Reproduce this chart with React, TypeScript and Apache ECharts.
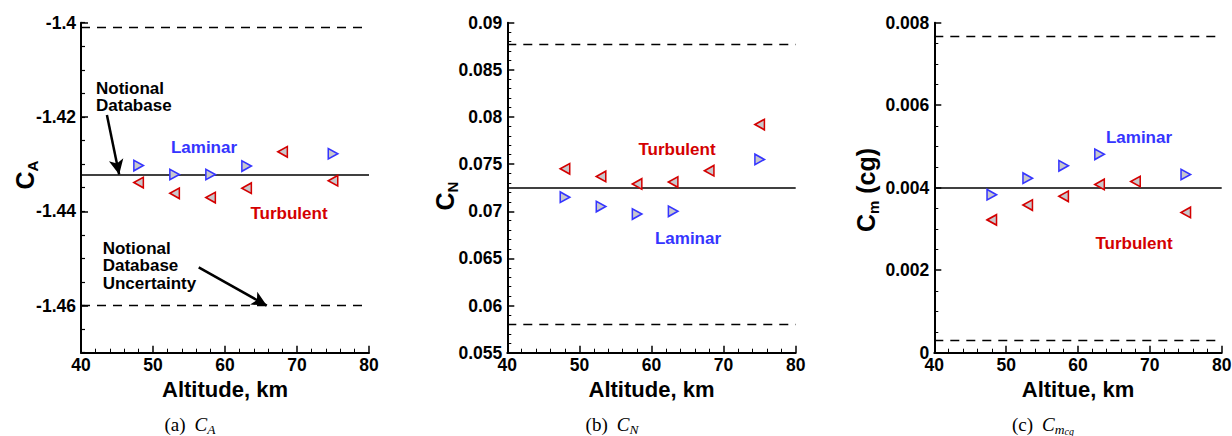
import React, { useEffect, useRef } from "react";
import * as echarts from "echarts";

// ---------- data ----------
const ALT_LAM = [48, 53, 58, 63, 75];
const ALT_TURB = [48, 53, 58, 63, 68, 75];

const CA_LAM = [-1.4303, -1.4322, -1.4322, -1.4304, -1.4278];
const CA_TURB = [-1.4339, -1.4362, -1.4371, -1.4351, -1.4274, -1.4335];
const CA_NOMINAL = -1.4322;
const CA_BOUNDS = [-1.401, -1.46];

const CN_LAM = [0.0715, 0.0705, 0.0697, 0.07, 0.0755];
const CN_TURB = [0.0745, 0.0737, 0.0729, 0.0731, 0.0743, 0.0792];
const CN_NOMINAL = 0.0725;
const CN_BOUNDS = [0.0877, 0.058];

const CM_LAM = [0.00383, 0.00423, 0.00453, 0.00481, 0.00432];
const CM_TURB = [0.00322, 0.00358, 0.00379, 0.00408, 0.00415, 0.0034];
const CM_NOMINAL = 0.004;
const CM_BOUNDS = [0.00768, 0.0003];

const X_TICKS = { min: 40, max: 80, step: 10 };
const X_TITLES = ["Altitude, km", "Altitude, km", "Altitue, km"];
const CA_TICKS = { min: -1.47, max: -1.4, major: [-1.46, -1.44, -1.42, -1.4], minorStep: 0.005 };
const CN_TICKS = { min: 0.055, max: 0.09, step: 0.005, minorSplit: 5 };
const CM_TICKS = { min: 0, max: 0.008, step: 0.002, minorSplit: 4 };

// annotation arrows for panel (a), in data units
const ARROW_DB = [[43.6, -1.4196], [45.3, -1.4322]];
const ARROW_UNC = [[56.35, -1.4519], [65.8, -1.46]];

const FONT = "'Liberation Sans', Arial, Helvetica, sans-serif";
const SERIF = "'Liberation Serif', 'Times New Roman', serif";
const BLUE = "#3535ff";
const RED = "#d40000";
const FILL = "#c8c8cc";

const zip = (xs: number[], ys: number[]) => xs.map((x, i) => [x, ys[i]]);
const fmt = (v: number) => String(parseFloat(v.toFixed(5)));

export default function App() {
  const ref = useRef<HTMLDivElement>(null);

  useEffect(() => {
    if (!ref.current) return;
    const chart = echarts.init(ref.current, null, { renderer: "svg" });

    const grids = [
      { left: 81, top: 22.7, width: 288, height: 330 },
      { left: 507.3, top: 22.7, width: 288.4, height: 330 },
      { left: 934.3, top: 22.7, width: 287.4, height: 330 },
    ].map((g) => ({ ...g, containLabel: false, outerBoundsMode: "none" }));

    const axisLine = { show: true, onZero: false, lineStyle: { color: "#000", width: 2 } };
    const labelStyle = { fontSize: 17.5, fontWeight: "bold", color: "#000", fontFamily: FONT };

    const xAxis = [0, 1, 2].map((i) => ({
      gridIndex: i,
      type: "value",
      min: X_TICKS.min,
      max: X_TICKS.max,
      interval: X_TICKS.step,
      name: X_TITLES[i],
      nameLocation: "middle",
      nameGap: 16,
      nameTextStyle: { fontSize: 22, fontWeight: "bold", color: "#000", fontFamily: FONT },
      axisLine,
      axisTick: { show: true, inside: true, length: 7, lineStyle: { color: "#000", width: 1.5 } },
      minorTick: { show: true, splitNumber: 5, length: 4, lineStyle: { color: "#000", width: 1 } },
      axisLabel: { ...labelStyle, margin: 3, showMinLabel: true, showMaxLabel: true },
      splitLine: { show: false },
      minorSplitLine: { show: false },
    }));

    const yBase = {
      type: "value",
      position: "left",
      axisLine,
      splitLine: { show: false },
      minorSplitLine: { show: false },
    };

    const yAxis: any[] = [
      {
        ...yBase,
        gridIndex: 0,
        min: CA_TICKS.min,
        max: CA_TICKS.max,
        interval: CA_TICKS.minorStep,
        axisTick: { show: true, inside: true, length: 4, lineStyle: { color: "#000", width: 1.2 } },
        axisLabel: {
          ...labelStyle,
          margin: 5,
          showMinLabel: true,
          showMaxLabel: true,
          formatter: (v: number) =>
            CA_TICKS.major.some((m) => Math.abs(m - v) < 1e-6) ? fmt(v) : "",
        },
      },
      {
        ...yBase,
        gridIndex: 1,
        min: CN_TICKS.min,
        max: CN_TICKS.max,
        interval: CN_TICKS.step,
        axisTick: { show: true, inside: true, length: 7, lineStyle: { color: "#000", width: 1.5 } },
        minorTick: { show: true, splitNumber: CN_TICKS.minorSplit, length: 4, lineStyle: { color: "#000", width: 1 } },
        axisLabel: { ...labelStyle, margin: 5, showMinLabel: true, showMaxLabel: true, formatter: fmt },
      },
      {
        ...yBase,
        gridIndex: 2,
        min: CM_TICKS.min,
        max: CM_TICKS.max,
        interval: CM_TICKS.step,
        axisTick: { show: true, inside: true, length: 7, lineStyle: { color: "#000", width: 1.5 } },
        minorTick: { show: true, splitNumber: CM_TICKS.minorSplit, length: 4, lineStyle: { color: "#000", width: 1 } },
        axisLabel: { ...labelStyle, margin: 5, showMinLabel: true, showMaxLabel: true, formatter: fmt },
      },
      // major ticks for panel (a)
      {
        type: "value",
        position: "left",
        gridIndex: 0,
        min: CA_TICKS.min,
        max: CA_TICKS.max,
        axisLine: { show: false },
        axisLabel: { show: false },
        splitLine: { show: false },
        axisTick: {
          show: true,
          inside: true,
          length: 7,
          customValues: CA_TICKS.major,
          lineStyle: { color: "#000", width: 1.5 },
        },
      },
    ];

    const refLines = (nominal: number, bounds: number[]) => ({
      silent: true,
      precision: 8,
      symbol: ["none", "none"],
      label: { show: false },
      emphasis: { disabled: true },
      data: [
        { yAxis: nominal, lineStyle: { color: "#000", width: 1.6, type: "solid" } },
        ...bounds.map((b) => ({ yAxis: b, lineStyle: { color: "#000", width: 1.4, type: [9, 7] } })),
      ],
    });

    const scatter = (
      idx: number,
      xs: number[],
      ys: number[],
      laminar: boolean,
      extra: any = {}
    ) => ({
      type: "scatter",
      xAxisIndex: idx,
      yAxisIndex: idx,
      data: zip(xs, ys),
      symbol: "triangle",
      symbolRotate: laminar ? -90 : 90,
      symbolSize: [10.5, 9.5],
      itemStyle: { color: FILL, borderColor: laminar ? BLUE : RED, borderWidth: 1.6, opacity: 1 },
      emphasis: { disabled: true },
      z: 5,
      ...extra,
    });

    const arrowLines = {
      silent: true,
      precision: 8,
      symbol: ["none", "arrow"],
      symbolSize: [11, 15],
      label: { show: false },
      emphasis: { disabled: true },
      lineStyle: { color: "#000", width: 2.5, type: "solid" },
      itemStyle: { color: "#000" },
      data: [ARROW_DB, ARROW_UNC].map((a) => [{ coord: a[0] }, { coord: a[1] }]),
    };

    const series = [
      scatter(0, ALT_LAM, CA_LAM, true, { markLine: refLines(CA_NOMINAL, CA_BOUNDS) }),
      scatter(0, ALT_TURB, CA_TURB, false, { markLine: arrowLines }),
      scatter(1, ALT_LAM, CN_LAM, true, { markLine: refLines(CN_NOMINAL, CN_BOUNDS) }),
      scatter(1, ALT_TURB, CN_TURB, false),
      scatter(2, ALT_LAM, CM_LAM, true, { markLine: refLines(CM_NOMINAL, CM_BOUNDS) }),
      scatter(2, ALT_TURB, CM_TURB, false),
    ];

    const txt = (x: number, y: number, text: string, color: string, extra: any = {}) => ({
      type: "text",
      x,
      y,
      silent: true,
      style: {
        text,
        fill: color,
        font: `bold 17px ${FONT}`,
        align: "center",
        verticalAlign: "middle",
        lineHeight: 17.5,
        ...extra,
      },
    });

    const yName = (x: number, y: number, sub: string, rest: string) => ({
      type: "text",
      x,
      y,
      rotation: Math.PI / 2,
      silent: true,
      style: {
        text: `{c|C}{s|${sub}}` + (rest ? `{c|${rest}}` : ""),
        align: "center",
        verticalAlign: "middle",
        rich: {
          c: { fontSize: 25, lineHeight: 25, fontWeight: "bold", fontFamily: FONT, fill: "#000", verticalAlign: "top" },
          s: { fontSize: 15, lineHeight: 15, fontWeight: "bold", fontFamily: FONT, fill: "#000", verticalAlign: "top", padding: [12, 0, 0, 0] },
        },
      },
    });

    const caption = (x: number, label: string, sub: string, subsub?: string) => ({
      type: "text",
      x,
      y: 424,
      silent: true,
      style: {
        text: `{r|(${label})}{i|C}{si|${sub}}` + (subsub ? `{ssi|${subsub}}` : ""),
        align: "center",
        verticalAlign: "middle",
        rich: {
          r: { fontSize: 19, lineHeight: 19, fontFamily: SERIF, fill: "#000", verticalAlign: "top", padding: [0, 9, 0, 0] },
          i: { fontSize: 19, lineHeight: 19, fontFamily: SERIF, fontStyle: "italic", fill: "#000", verticalAlign: "top" },
          si: { fontSize: 13.5, lineHeight: 13.5, fontFamily: SERIF, fontStyle: "italic", fill: "#000", verticalAlign: "top", padding: [7.5, 0, 0, 0] },
          ssi: { fontSize: 10, lineHeight: 10, fontFamily: SERIF, fontStyle: "italic", fill: "#000", verticalAlign: "top", padding: [12, 0, 0, 0] },
        },
      },
    });

    const graphic = [
      // panel (a)
      txt(204, 147, "Laminar", BLUE),
      txt(289, 213, "Turbulent", RED),
      txt(96, 79.5, "Notional\nDatabase", "#000", { align: "left", verticalAlign: "top" }),
      txt(102.7, 239.7, "Notional\nDatabase\nUncertainty", "#000", { align: "left", verticalAlign: "top" }),
      // panel (b)
      txt(677, 149, "Turbulent", RED),
      txt(688, 238, "Laminar", BLUE),
      // panel (c)
      txt(1139, 137.5, "Laminar", BLUE),
      txt(1134, 243, "Turbulent", RED),
      // y axis names
      yName(25, 175, "A", ""),
      yName(445, 196, "N", ""),
      yName(866, 190, "m", " (cg)"),
      // captions
      caption(190, "a", "A"),
      caption(612, "b", "N"),
      caption(1043, "c", "m", "cg"),
    ];

    chart.setOption({
      animation: false,
      backgroundColor: "#fff",
      grid: grids,
      xAxis,
      yAxis,
      series,
      graphic,
    } as any);

    return () => chart.dispose();
  }, []);

  return (
    <div
      ref={ref}
      style={{ position: "absolute", left: 0, top: 0, width: 1232, height: 436 }}
    />
  );
}
